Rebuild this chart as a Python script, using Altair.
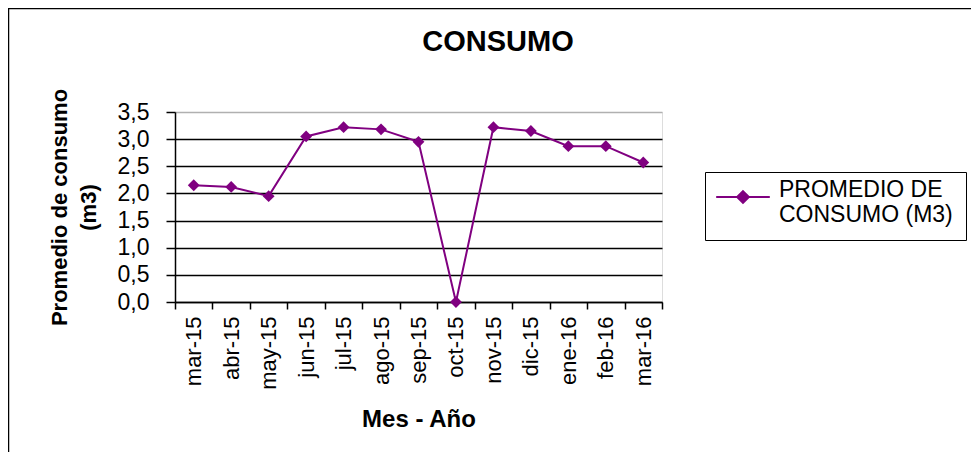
import altair as alt
import pandas as pd

meses = ["mar-15", "abr-15", "may-15", "jun-15", "jul-15", "ago-15", "sep-15",
         "oct-15", "nov-15", "dic-15", "ene-16", "feb-16", "mar-16"]
promedio = [2.15, 2.12, 1.95, 3.05, 3.22, 3.18, 2.95, 0.0, 3.22, 3.15, 2.87, 2.87, 2.57]
serie = "PROMEDIO DE CONSUMO (M3)"
y_ticks = [0, 0.5, 1.0, 1.5, 2.0, 2.5, 3.0, 3.5]
titulo = "CONSUMO"

df = pd.DataFrame({"mes": meses, "valor": promedio, "serie": [serie] * len(meses)})

FONT = "Liberation Sans"
PURPLE = "#800080"

x_enc = alt.X(
    "mes:N", sort=meses,
    scale=alt.Scale(paddingInner=0, paddingOuter=0),
    axis=alt.Axis(
        title="Mes  -  Año", titleFont=FONT, titleFontSize=24, titleFontWeight="bold",
        titleColor="black", titlePadding=18,
        labelAngle=-90, labelFont=FONT, labelFontSize=22, labelColor="black",
        labelPadding=7, tickBand="extent", tickColor="black", tickSize=7,
        domainColor="black", domainWidth=1.5, tickWidth=1.5, grid=False,
    ),
)
y_enc = alt.Y(
    "valor:Q",
    scale=alt.Scale(domain=[0, 3.5], nice=False, zero=True),
    axis=alt.Axis(
        values=y_ticks,
        labelExpr="replace(format(datum.value, '.1f'), '.', ',')",
        title=["Promedio de consumo", "(m3)"], titleFont=FONT, titleFontSize=22,
        titleFontWeight="bold", titleColor="black", titlePadding=17,
        titleLineHeight=29,
        labelFont=FONT, labelFontSize=23, labelColor="black", labelPadding=17,
        tickColor="black", tickSize=9, tickWidth=1.5,
        domainColor="black", domainWidth=1.5,
        grid=True,
        gridColor=alt.condition("datum.value == 3.5", alt.value("#b0b0b0"), alt.value("black")),
        gridWidth=1.3,
    ),
)

line = alt.Chart(df).mark_line(
    strokeWidth=2,
    point=alt.OverlayMarkDef(shape="diamond", size=140, filled=True, color=PURPLE, opacity=1),
).encode(
    x=x_enc,
    y=y_enc,
    color=alt.Color(
        "serie:N",
        scale=alt.Scale(range=[PURPLE]),
        legend=alt.Legend(
            title=None, orient="none", legendX=530, legendY=60,
            strokeColor="black", padding=13,
            symbolType="M-2.5,0L2.5,0M0,-0.55L0.55,0L0,0.55L-0.55,0Z",
            symbolSize=460, symbolStrokeWidth=2, symbolFillColor=PURPLE,
            symbolStrokeColor=PURPLE, symbolOffset=13,
            labelExpr="['PROMEDIO DE', 'CONSUMO (M3)']",
            labelFont=FONT, labelFontSize=23, labelColor="black", labelOffset=24,
            labelLimit=300, labelBaseline="alphabetic",
        ),
    ),
)

border = alt.Chart(pd.DataFrame({"b": [0]})).mark_rect(
    fill=None, stroke="black", strokeWidth=2.5, clip=False
).encode(
    x=alt.value(-167), x2=alt.value(820),
    y=alt.value(-104), y2=alt.value(360),
)

title = alt.Chart(pd.DataFrame({"t": [titulo]})).mark_text(
    font=FONT, fontSize=29, fontWeight="bold", color="black",
    align="center", baseline="middle", clip=False,
).encode(
    text="t:N", x=alt.value(323), y=alt.value(-70),
)

chart = alt.layer(border, line, title).properties(
    width=487, height=190,
    padding={"left": 167, "top": 104, "right": 309, "bottom": 150},
    autosize=alt.AutoSizeParams(type="none"),
).configure_view(stroke=None).configure(background="white")

chart.save("out.html", embed_options={"renderer": "svg", "actions": False})
